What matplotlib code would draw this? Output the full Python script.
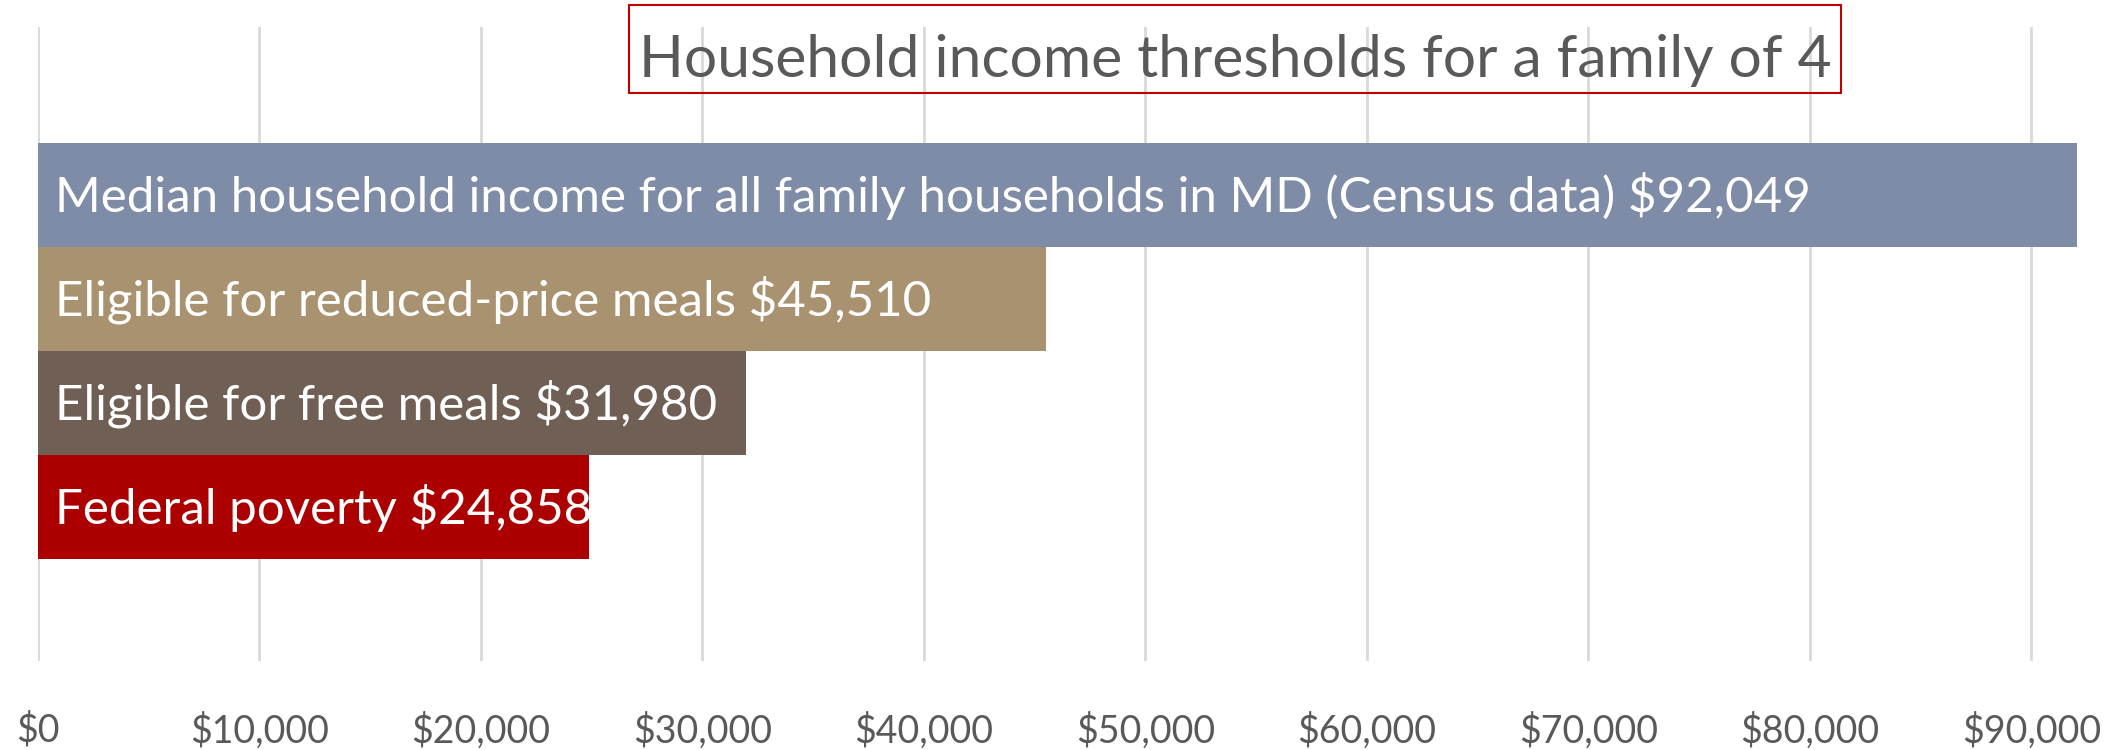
import matplotlib.pyplot as plt
from matplotlib.patches import Rectangle
from matplotlib.ticker import FuncFormatter

# Дані
labels = [
    'Median household income for all family households in MD (Census data)',
    'Eligible for reduced-price meals',
    'Eligible for free meals',
    'Federal poverty',
]
values = [92049, 45510, 31980, 24858]
bar_colors = ['#7F8CA8', '#A9926F', '#6F5F54', '#AC0000']
x_ticks = [0, 10000, 20000, 30000, 40000, 50000, 60000, 70000, 80000, 90000]

plt.rcParams['font.family'] = ['Lato', 'DejaVu Sans']

fig = plt.figure(figsize=(21.16, 7.5), dpi=100)
# вісь у пікселях: зліва 38, справа 2116, зверху 27, знизу 661
ax = fig.add_axes([38 / 2116, 1 - 661 / 750, (2116 - 38) / 2116, (661 - 27) / 750])

ypos = list(range(len(values)))
ax.barh(ypos, values, height=1.0, color=bar_colors, zorder=2)

for y, lab, v in zip(ypos, labels, values):
    ax.annotate(f'{lab} ${v:,}', xy=(0, y), xytext=(12, -1), textcoords='offset points',
                va='center', ha='left', color='white', fontsize=35.5, zorder=3)

ax.set_xlim(0, 93815)
ax.set_ylim(4.48, -1.61)
ax.set_xticks(x_ticks)
ax.xaxis.set_major_formatter(FuncFormatter(lambda v, p: f'${int(v):,}'))
ax.set_yticks([])
ax.tick_params(axis='x', length=0, pad=37, labelsize=27, labelcolor='#595959')
ax.grid(axis='x', color='#D9D9D9', linewidth=2, zorder=0)
ax.set_axisbelow(True)
for s in ax.spines.values():
    s.set_visible(False)

# Заголовок у рамці
fig.patches.append(Rectangle((629 / 2116, 1 - 93 / 750), (1841 - 629) / 2116, 88 / 750,
                             transform=fig.transFigure, fill=False,
                             edgecolor='#C00000', linewidth=1.5))
fig.text(1235 / 2116, 1 - 77 / 750, 'Household income thresholds for a family of 4',
         ha='center', va='baseline', fontsize=42.3, color='#595959')

fig.savefig('out.png', dpi=100)
